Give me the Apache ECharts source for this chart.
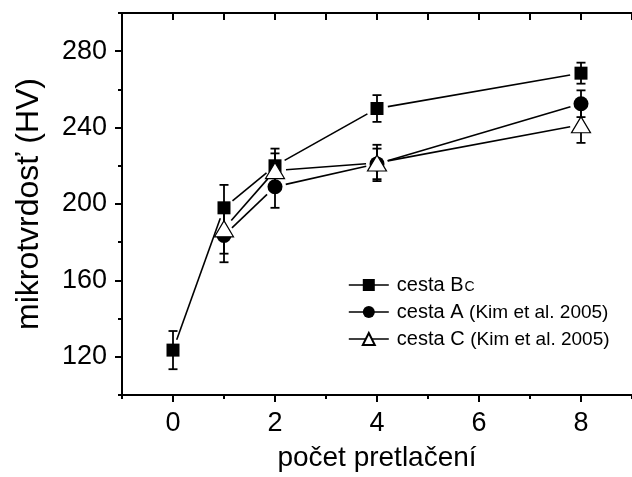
<!DOCTYPE html>
<html>
<head>
<meta charset="utf-8">
<title>mikrotvrdosť</title>
<script src="https://cdn.jsdelivr.net/npm/echarts@6.0.0/dist/echarts.min.js"></script>
<style>
html, body { margin: 0; padding: 0; background: #fff; }
#chart { width: 632px; height: 477px; }
</style>
</head>
<body>
<div id="chart"></div>
<script>
// hodnoty odčítané z obrázka
var xTicks = [0, 2, 4, 6, 8];
var yTicks = [120, 160, 200, 240, 280];

var xBc = [0, 1, 2, 4, 8];
var hvBc = [123.5, 198, 220, 250, 268.5];
var errBc = [10, 12, 9, 7, 5.5];

var xA = [1, 2, 4, 8];
var hvA = [183.5, 209, 221, 252.5];
var errA = [14, 11, 8, 7];

var xC = [1, 2, 4, 8];
var hvC = [187, 217.5, 221.5, 241.5];
var errC = [13, 9, 9.5, 9.5];

var FONT = 'Liberation Sans, Arial, sans-serif';

function points(xs, ys) {
    var out = [];
    for (var i = 0; i < xs.length; i++) out.push([xs[i], ys[i]]);
    return out;
}
function segments(xs, ys) {
    var out = [];
    for (var i = 1; i < xs.length; i++) out.push([xs[i - 1], ys[i - 1], xs[i], ys[i]]);
    return out;
}
function errors(xs, ys, es) {
    var out = [];
    for (var i = 0; i < xs.length; i++) out.push([xs[i], ys[i] - es[i], ys[i] + es[i]]);
    return out;
}

// spojnice s medzerou pri znackach (ako v Origine)
function renderSegment(params, api) {
    var p1 = api.coord([api.value(0), api.value(1)]);
    var p2 = api.coord([api.value(2), api.value(3)]);
    var dx = p2[0] - p1[0], dy = p2[1] - p1[1];
    var len = Math.sqrt(dx * dx + dy * dy);
    var gap = 11;
    if (len < gap * 2) return null;
    var ux = dx / len, uy = dy / len;
    return {
        type: 'line',
        shape: {x1: p1[0] + ux * gap, y1: p1[1] + uy * gap, x2: p2[0] - ux * gap, y2: p2[1] - uy * gap},
        style: {stroke: '#000', lineWidth: 1.6}
    };
}
function renderError(params, api) {
    var lo = api.coord([api.value(0), api.value(1)]);
    var hi = api.coord([api.value(0), api.value(2)]);
    var w = 4.5;
    var st = {stroke: '#000', lineWidth: 1.8};
    return {
        type: 'group',
        children: [
            {type: 'line', shape: {x1: lo[0], y1: lo[1], x2: hi[0], y2: hi[1]}, style: st},
            {type: 'line', shape: {x1: lo[0] - w, y1: lo[1], x2: lo[0] + w, y2: lo[1]}, style: st},
            {type: 'line', shape: {x1: hi[0] - w, y1: hi[1], x2: hi[0] + w, y2: hi[1]}, style: st}
        ]
    };
}

function segSeries(xs, ys) {
    return {type: 'custom', renderItem: renderSegment, data: segments(xs, ys),
        encode: {x: [0, 2], y: [1, 3]}, xAxisIndex: 0, yAxisIndex: 0, z: 2, silent: true};
}
function errSeries(xs, ys, es) {
    return {type: 'custom', renderItem: renderError, data: errors(xs, ys, es),
        encode: {x: 0, y: [1, 2]}, xAxisIndex: 0, yAxisIndex: 0, z: 2, silent: true};
}

var myChart = echarts.init(document.getElementById('chart'));
var option = {
    animation: false,
    backgroundColor: '#fff',
    textStyle: {fontFamily: FONT},
    grid: {left: 122, right: -7, top: 13, bottom: 80, containLabel: false},
    legend: {
        orient: 'vertical',
        left: 348,
        top: 275,
        padding: 0,
        itemWidth: 40,
        itemHeight: 15,
        itemGap: 7,
        align: 'left',
        selectedMode: false,
        data: ['cesta Bc', 'cesta A', 'cesta C'],
        lineStyle: {width: 1.6, color: '#000', opacity: 1},
        formatter: function (name) {
            if (name === 'cesta Bc') return '{m|cesta B}{s|C}';
            if (name === 'cesta A') return '{m|cesta A }{k|(Kim et al. 2005)}';
            return '{m|cesta C }{k|(Kim et al. 2005)}';
        },
        textStyle: {
            color: '#000',
            padding: [0, 0, 0, 3],
            rich: {
                m: {fontSize: 20, fontFamily: FONT, color: '#000', lineHeight: 20, verticalAlign: 'bottom'},
                s: {fontSize: 14, fontFamily: FONT, color: '#000', lineHeight: 20, verticalAlign: 'bottom', padding: [0, 0, 1, 1]},
                k: {fontSize: 19, fontFamily: FONT, color: '#000', lineHeight: 20, verticalAlign: 'bottom'}
            }
        }
    },
    xAxis: [
        {
            type: 'value', position: 'bottom', min: -1, max: 9,
            name: 'počet pretlačení', nameLocation: 'middle', nameGap: 49,
            nameTextStyle: {fontSize: 28, color: '#000', fontFamily: FONT},
            axisLine: {show: true, onZero: false, lineStyle: {color: '#000', width: 2}},
            axisTick: {show: true, customValues: xTicks, length: 7, lineStyle: {color: '#000', width: 2}},
            axisLabel: {show: true, customValues: xTicks, fontSize: 27, color: '#000', margin: 15, fontFamily: FONT},
            splitLine: {show: false}
        },
        {
            type: 'value', position: 'bottom', min: -1, max: 9, interval: 1,
            axisLine: {show: false, onZero: false},
            axisTick: {show: true, length: 4, lineStyle: {color: '#000', width: 2}},
            axisLabel: {show: false},
            splitLine: {show: false}
        },
        {
            type: 'value', position: 'top', min: -1, max: 9, interval: 1,
            axisLine: {show: true, onZero: false, lineStyle: {color: '#000', width: 2}},
            axisTick: {show: true, inside: true, length: 7, lineStyle: {color: '#000', width: 2}},
            axisLabel: {show: false},
            splitLine: {show: false}
        }
    ],
    yAxis: [
        {
            type: 'value', position: 'left', min: 100, max: 300,
            name: 'mikrotvrdosť (HV)', nameLocation: 'middle', nameGap: 77,
            nameTextStyle: {fontSize: 32, color: '#000', fontFamily: FONT},
            axisLine: {show: true, onZero: false, lineStyle: {color: '#000', width: 2}},
            axisTick: {show: true, customValues: yTicks, length: 7, lineStyle: {color: '#000', width: 2}},
            axisLabel: {show: true, customValues: yTicks, fontSize: 27, color: '#000', margin: 15, fontFamily: FONT},
            splitLine: {show: false}
        },
        {
            type: 'value', position: 'left', min: 100, max: 300, interval: 20,
            axisLine: {show: false, onZero: false},
            axisTick: {show: true, length: 4, lineStyle: {color: '#000', width: 2}},
            axisLabel: {show: false},
            splitLine: {show: false}
        }
    ],
    series: [
        segSeries(xBc, hvBc),
        segSeries(xA, hvA),
        segSeries(xC, hvC),
        errSeries(xBc, hvBc, errBc),
        errSeries(xA, hvA, errA),
        errSeries(xC, hvC, errC),
        {
            name: 'cesta Bc', type: 'line', data: points(xBc, hvBc), z: 5,
            symbol: 'rect', symbolSize: 13, showAllSymbol: true,
            lineStyle: {width: 0}, itemStyle: {color: '#000'}
        },
        {
            name: 'cesta A', type: 'line', data: points(xA, hvA), z: 5,
            symbol: 'circle', symbolSize: 15, showAllSymbol: true,
            lineStyle: {width: 0}, itemStyle: {color: '#000'}
        },
        {
            name: 'cesta C', type: 'line', data: points(xC, hvC), z: 6,
            symbol: 'triangle', symbolSize: [19, 16], showAllSymbol: true,
            lineStyle: {width: 0}, itemStyle: {color: '#fff', borderColor: '#000', borderWidth: 1.2}
        }
    ]
};
myChart.setOption(option);
</script>
</body>
</html>
